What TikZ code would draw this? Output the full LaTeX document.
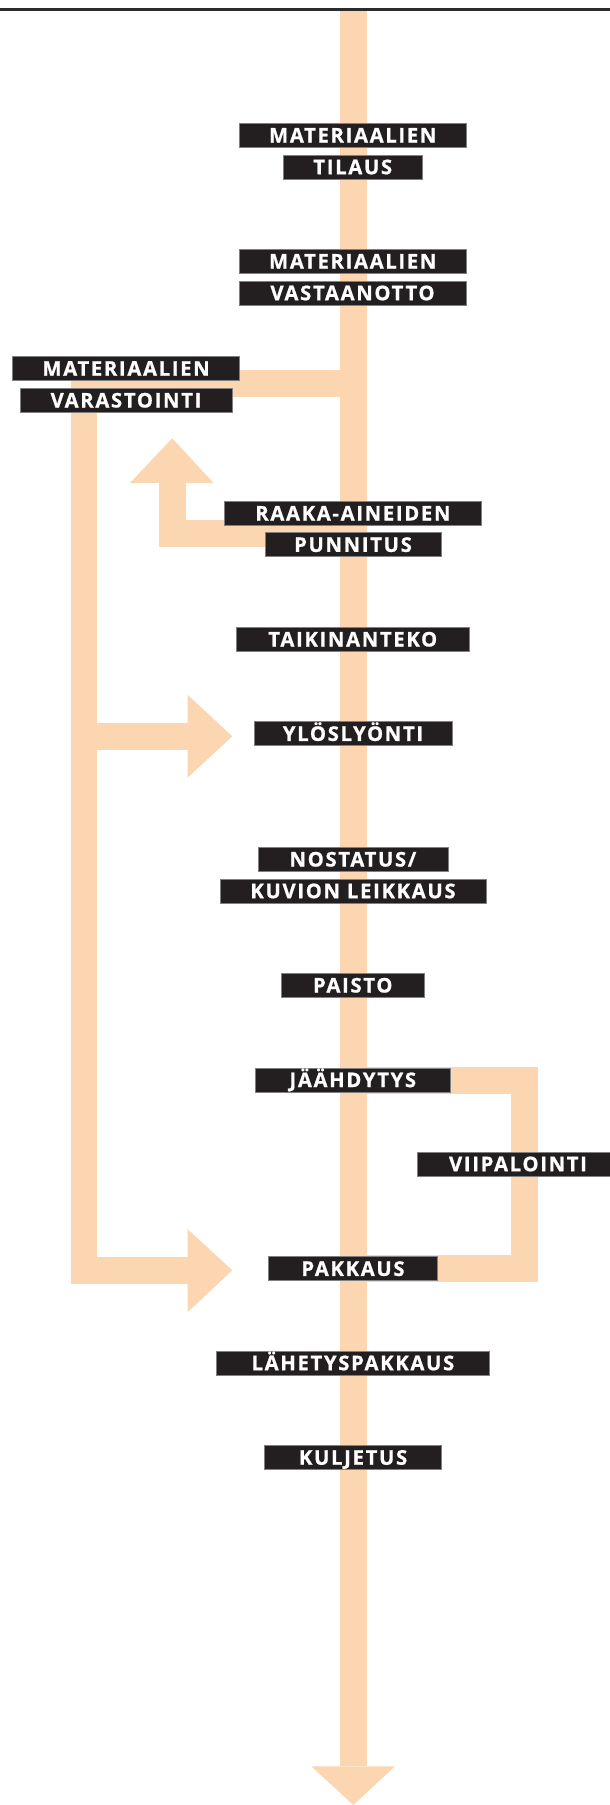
\documentclass[tikz,border=0pt]{standalone}
\usepackage{fontspec}
\newfontfamily\labelfont[LetterSpace=8.5, BoldFeatures={FakeBold=0.9}]{Open Sans}
\definecolor{peach}{HTML}{FCD5B1}
\definecolor{boxfill}{HTML}{231F20}
\definecolor{rule}{HTML}{2B2B2B}
\tikzset{
  bar/.style={draw=peach, line width=26.6bp, line join=miter, line cap=butt},
  head/.style={fill=peach},
  stepbox/.style={fill=boxfill, draw=black!50, line width=0.6bp, text=white,
    inner sep=0pt, minimum height=24bp, text height=14.4bp, text depth=0pt,
    font=\labelfont\bfseries\fontsize{20.2bp}{21bp}\selectfont},
}
\begin{document}
\begin{tikzpicture}[x=1bp,y=-1bp]
\useasboundingbox (0,0) rectangle (610,1805);
\clip (0,0) rectangle (610,1805);

% top rule
\draw[line width=3.3bp, draw=rule] (0,9.3) -- (610,9.3);

% main flow line
\coordinate (mtop) at (353.3,11);
\coordinate (mend) at (353.3,1766.3);
\draw[bar] (mtop) -- (mend);
\fill[head] (311.3,1766.3) -- (395,1766.3) -- (353.3,1805) -- cycle;

% storage branch: out of the main line, down the left side, into packing
\coordinate (stoOut) at (353.3,383.3);
\coordinate (stoCorner) at (84,383.3);
\coordinate (stoLow) at (84,1270.3);
\coordinate (stoEnd) at (187.5,1270.3);
\draw[bar] (stoOut) -- (stoCorner) -- (stoLow) -- (stoEnd);
\fill[head] (187.5,1229) -- (232.3,1270.3) -- (187.5,1312.3) -- cycle;

% storage into proofing
\coordinate (midOut) at (84,736.3);
\coordinate (midEnd) at (187.5,736.3);
\draw[bar] (midOut) -- (midEnd);
\fill[head] (187.5,694.7) -- (232.3,736.3) -- (187.5,777.7) -- cycle;

% weighing back towards storage
\coordinate (upOut) at (353.3,533.3);
\coordinate (upCorner) at (172.2,533.3);
\coordinate (upEnd) at (172.2,483);
\draw[bar] (upOut) -- (upCorner) -- (upEnd);
\fill[head] (130,483) -- (213.6,483) -- (172.2,438.3) -- cycle;

% slicing loop
\coordinate (loopOut) at (353.3,1080.3);
\coordinate (loopA) at (524.3,1080.3);
\coordinate (loopB) at (524.3,1268.3);
\coordinate (loopIn) at (353.3,1268.3);
\draw[bar] (loopOut) -- (loopA) -- (loopB) -- (loopIn);

% process steps
\node[stepbox, minimum width=227.5bp] (mat1) at (352.75,135.3) {MATERIAALIEN};
\node[stepbox, minimum width=139.5bp] (tilaus) at (352.75,167) {TILAUS};
\node[stepbox, minimum width=227.5bp] (mat2) at (352.75,261.3) {MATERIAALIEN};
\node[stepbox, minimum width=227bp] (vast) at (352.5,293) {VASTAANOTTO};
\node[stepbox, minimum width=227.2bp] (mat3) at (126.1,368.5) {MATERIAALIEN};
\node[stepbox, minimum width=212bp] (varast) at (126,400.3) {VARASTOINTI};
\node[stepbox, minimum width=256.8bp] (raaka) at (352.9,513.3) {RAAKA-AINEIDEN};
\node[stepbox, minimum width=176bp] (punn) at (353,544.7) {PUNNITUS};
\node[stepbox, minimum width=233.6bp] (taik) at (352.8,639.3) {TAIKINANTEKO};
\node[stepbox, minimum width=198bp] (ylos) at (353,733.7) {YLÖSLYÖNTI};
\node[stepbox, minimum width=189.8bp] (nost) at (352.9,859.3) {NOSTATUS/};
\node[stepbox, minimum width=266bp] (kuvio) at (353,891) {KUVION LEIKKAUS};
\node[stepbox, minimum width=143.5bp] (paisto) at (352.75,985.3) {PAISTO};
\node[stepbox, minimum width=195.6bp] (jaah) at (352.8,1079.9) {JÄÄHDYTYS};
\node[stepbox, minimum width=202bp] (viip) at (518,1164) {VIIPALOINTI};
\node[stepbox, minimum width=169bp] (pakk) at (353,1268.7) {PAKKAUS};
\node[stepbox, minimum width=273.2bp] (lahet) at (352.9,1363) {LÄHETYSPAKKAUS};
\node[stepbox, minimum width=177bp] (kulj) at (353.1,1457.5) {KULJETUS};
\end{tikzpicture}
\end{document}
